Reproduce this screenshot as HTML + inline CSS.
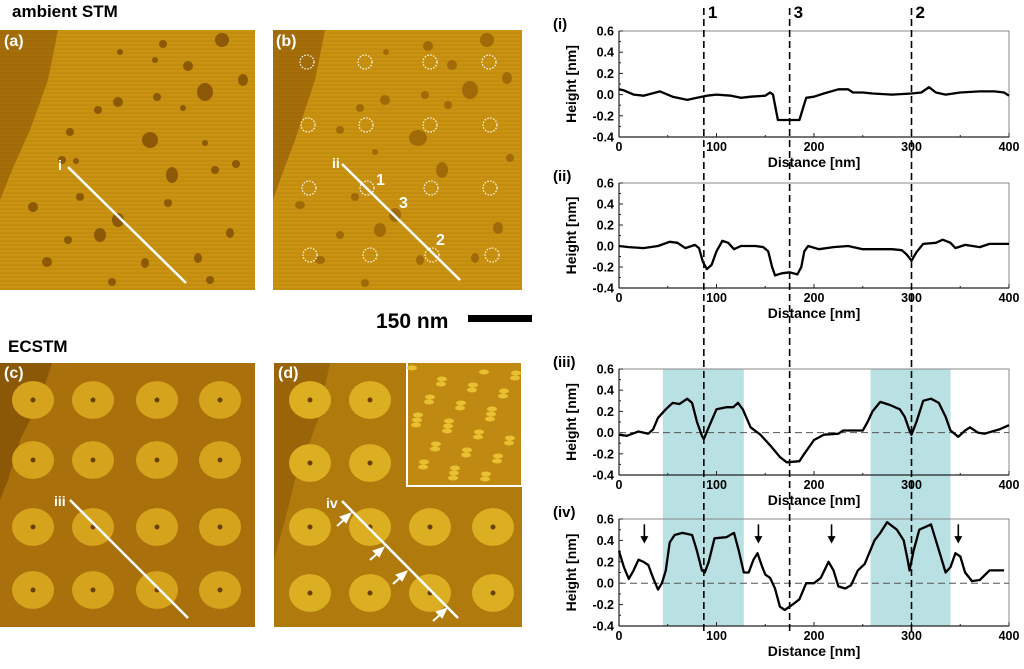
<!DOCTYPE html>
<html><head><meta charset="utf-8"><style>
html,body{margin:0;padding:0;background:#fff;width:1024px;height:669px;overflow:hidden}
svg{display:block;font-family:"Liberation Sans",Arial,sans-serif}
</style></head><body>
<svg id="fig" width="1024" height="669" viewBox="0 0 1024 669">
<defs>
<pattern id="stripes" width="6" height="4" patternUnits="userSpaceOnUse"><rect width="6" height="2" fill="#000" opacity="0.03"/></pattern>
</defs>
<text x="12" y="17" font-size="17" font-weight="bold">ambient STM</text>
<text x="8" y="352" font-size="17" font-weight="bold">ECSTM</text>

<g>
<rect x="0" y="30" width="255" height="260" fill="#c99210"/>
<polygon points="0,30 58,30 48,80 30,130 12,170 0,200" fill="#a56e08"/>
<rect x="0" y="30" width="255" height="260" fill="url(#stripes)"/>
<g fill="#8c5a06">
<ellipse cx="222" cy="40" rx="7" ry="7"/><ellipse cx="163" cy="44" rx="4" ry="4"/><ellipse cx="120" cy="52" rx="3" ry="3"/><ellipse cx="188" cy="66" rx="5" ry="5"/><ellipse cx="155" cy="60" rx="3" ry="3"/><ellipse cx="243" cy="80" rx="5" ry="6"/><ellipse cx="205" cy="92" rx="8" ry="9"/><ellipse cx="118" cy="102" rx="5" ry="5"/><ellipse cx="157" cy="97" rx="4" ry="4"/><ellipse cx="98" cy="110" rx="4" ry="4"/><ellipse cx="183" cy="108" rx="3" ry="3"/><ellipse cx="150" cy="140" rx="8" ry="8"/><ellipse cx="70" cy="132" rx="4" ry="4"/><ellipse cx="205" cy="143" rx="3" ry="3"/><ellipse cx="62" cy="160" rx="4" ry="4"/><ellipse cx="76" cy="161" rx="3" ry="3"/><ellipse cx="172" cy="175" rx="6" ry="8"/><ellipse cx="236" cy="164" rx="4" ry="4"/><ellipse cx="215" cy="170" rx="4" ry="4"/><ellipse cx="33" cy="207" rx="5" ry="5"/><ellipse cx="80" cy="197" rx="4" ry="4"/><ellipse cx="168" cy="203" rx="4" ry="4"/><ellipse cx="118" cy="220" rx="6" ry="7"/><ellipse cx="100" cy="235" rx="6" ry="7"/><ellipse cx="68" cy="240" rx="4" ry="4"/><ellipse cx="230" cy="233" rx="4" ry="5"/><ellipse cx="47" cy="262" rx="5" ry="5"/><ellipse cx="145" cy="263" rx="4" ry="5"/><ellipse cx="198" cy="258" rx="4" ry="5"/><ellipse cx="112" cy="282" rx="4" ry="4"/><ellipse cx="210" cy="280" rx="4" ry="4"/>
</g>
<line x1="68" y1="167" x2="186" y2="283" stroke="#fff" stroke-width="2.5"/>
<text x="58" y="170" font-size="14" font-weight="bold" fill="#fff">i</text>
<text x="4" y="46" font-size="16" font-weight="bold" fill="#fff">(a)</text>
</g>

<g>
<rect x="273" y="30" width="249" height="260" fill="#c99210"/>
<polygon points="273,30 325,30 315,80 295,140 280,180 273,200" fill="#a56e08"/>
<rect x="273" y="30" width="249" height="260" fill="url(#stripes)"/>
<g fill="#a06a08">
<ellipse cx="487" cy="40" rx="7" ry="7"/><ellipse cx="428" cy="46" rx="5" ry="5"/><ellipse cx="386" cy="52" rx="3" ry="3"/><ellipse cx="452" cy="65" rx="5" ry="5"/><ellipse cx="507" cy="78" rx="5" ry="6"/><ellipse cx="470" cy="90" rx="8" ry="9"/><ellipse cx="385" cy="100" rx="5" ry="5"/><ellipse cx="425" cy="95" rx="4" ry="4"/><ellipse cx="360" cy="108" rx="4" ry="4"/><ellipse cx="448" cy="105" rx="4" ry="4"/><ellipse cx="418" cy="138" rx="9" ry="8"/><ellipse cx="340" cy="130" rx="4" ry="4"/><ellipse cx="510" cy="158" rx="4" ry="4"/><ellipse cx="442" cy="170" rx="6" ry="8"/><ellipse cx="375" cy="152" rx="3" ry="3"/><ellipse cx="300" cy="205" rx="5" ry="4"/><ellipse cx="355" cy="197" rx="4" ry="4"/><ellipse cx="395" cy="215" rx="6" ry="7"/><ellipse cx="380" cy="230" rx="6" ry="7"/><ellipse cx="340" cy="235" rx="4" ry="4"/><ellipse cx="498" cy="228" rx="5" ry="6"/><ellipse cx="320" cy="260" rx="5" ry="4"/><ellipse cx="420" cy="260" rx="4" ry="5"/><ellipse cx="475" cy="258" rx="4" ry="5"/><ellipse cx="365" cy="283" rx="4" ry="4"/>
</g>
<g fill="none" stroke="#fff" stroke-width="1.2" stroke-dasharray="1.5 1.5">
<circle cx="307" cy="62" r="7"/><circle cx="365" cy="62" r="7"/><circle cx="430" cy="62" r="7"/><circle cx="489" cy="62" r="7"/>
<circle cx="308" cy="125" r="7"/><circle cx="366" cy="125" r="7"/><circle cx="430" cy="125" r="7"/><circle cx="490" cy="125" r="7"/>
<circle cx="309" cy="188" r="7"/><circle cx="367" cy="188" r="7"/><circle cx="431" cy="188" r="7"/><circle cx="490" cy="188" r="7"/>
<circle cx="310" cy="255" r="7"/><circle cx="370" cy="255" r="7"/><circle cx="432" cy="255" r="7"/><circle cx="492" cy="255" r="7"/>
</g>
<line x1="342" y1="164" x2="460" y2="280" stroke="#fff" stroke-width="2.5"/>
<text x="332" y="168" font-size="14" font-weight="bold" fill="#fff">ii</text>
<text x="376" y="185" font-size="16" font-weight="bold" fill="#fff">1</text>
<text x="399" y="208" font-size="16" font-weight="bold" fill="#fff">3</text>
<text x="436" y="245" font-size="16" font-weight="bold" fill="#fff">2</text>
<text x="276" y="46" font-size="16" font-weight="bold" fill="#fff">(b)</text>
</g>

<g>
<text x="376" y="328" font-size="21" font-weight="bold">150 nm</text>
<rect x="468" y="315" width="64" height="7" fill="#000"/>
</g>

<g>
<rect x="0" y="363" width="255" height="264" fill="#a9700b"/>
<polygon points="0,363 52,363 40,400 20,440 8,480 0,500" fill="#8a5806"/>
<g fill="#d6a41c" id="islc"></g>
<line x1="70" y1="500" x2="188" y2="618" stroke="#fff" stroke-width="2.5"/>
<text x="54" y="506" font-size="14" font-weight="bold" fill="#fff">iii</text>
<text x="4" y="378" font-size="16" font-weight="bold" fill="#fff">(c)</text>
</g>

<g>
<rect x="274" y="363" width="248" height="264" fill="#b07a0c"/>
<polygon points="274,363 330,363 318,420 295,480 285,520 274,560" fill="#9a6408"/>
<g fill="#dcae22" id="isld"></g>
<rect x="407" y="362" width="115" height="124" fill="#c08a12" stroke="#fff" stroke-width="2"/>
<g fill="#e8c030" id="insetd"></g>
<line x1="342" y1="501" x2="458" y2="618" stroke="#fff" stroke-width="2.5"/>
<text x="326" y="508" font-size="14" font-weight="bold" fill="#fff">iv</text>
<g stroke="#fff" stroke-width="2" fill="#fff">
<line x1="337" y1="526" x2="346" y2="518"/><polygon points="350,514 341,517 346,522"/>
<line x1="370" y1="560" x2="379" y2="552"/><polygon points="383,548 374,551 379,556"/>
<line x1="393" y1="584" x2="402" y2="576"/><polygon points="406,572 397,575 402,580"/>
<line x1="433" y1="621" x2="442" y2="613"/><polygon points="446,609 437,612 442,617"/>
</g>
<text x="278" y="378" font-size="16" font-weight="bold" fill="#fff">(d)</text>
</g>

<g id="charts"></g>
</svg>
<script>
// ---- data ----
const distI=[0,5,15,25,42,55,70,80,90,100,115,125,135,150,155,158,163,170,185,188,192,200,210,225,235,240,250,260,280,300,310,318,325,335,350,370,385,395,400];
const heightI=[0.05,0.04,0.0,-0.01,0.03,-0.02,-0.05,-0.03,-0.01,0.0,-0.01,-0.03,-0.02,-0.01,0.02,0.0,-0.24,-0.24,-0.24,-0.15,-0.03,-0.02,0.01,0.05,0.05,0.02,0.02,0.01,0.0,0.01,0.02,0.07,0.02,0.0,0.02,0.03,0.03,0.02,-0.01];
const distII=[0,10,25,40,52,60,68,78,82,86,90,95,100,106,112,118,125,140,148,153,157,160,167,175,183,187,190,194,205,220,235,250,265,280,290,295,300,305,312,325,332,340,345,355,370,380,400];
const heightII=[0.0,-0.01,-0.02,0.0,0.04,0.03,-0.02,0.01,-0.02,-0.15,-0.22,-0.18,-0.05,0.05,0.03,-0.03,0.0,0.0,-0.01,-0.05,-0.2,-0.28,-0.26,-0.25,-0.27,-0.2,-0.05,0.0,-0.03,-0.01,0.0,-0.03,-0.03,-0.03,-0.04,-0.08,-0.14,-0.06,0.02,0.03,0.06,0.03,-0.02,0.01,-0.01,0.02,0.02];
const distIII=[0,8,20,30,35,40,48,55,62,70,75,80,85,87,92,100,110,117,122,127,135,145,155,165,172,185,190,200,210,225,230,245,250,255,260,268,278,288,293,298,300,305,312,320,328,335,340,348,355,360,368,375,390,400];
const heightIII=[-0.02,-0.03,0.01,-0.01,0.03,0.14,0.22,0.28,0.27,0.32,0.28,0.1,-0.03,-0.06,0.05,0.22,0.24,0.24,0.28,0.22,0.05,-0.02,-0.12,-0.23,-0.28,-0.27,-0.2,-0.07,-0.02,-0.01,0.02,0.02,0.02,0.1,0.2,0.29,0.26,0.22,0.15,0.02,-0.02,0.1,0.3,0.32,0.28,0.15,0.02,-0.04,0.02,0.05,0.0,-0.01,0.03,0.07];
const distIV=[0,5,10,15,20,25,30,35,40,44,48,52,57,65,75,80,85,88,92,98,110,118,123,128,133,138,142,147,150,155,160,165,170,178,185,192,200,207,215,220,225,232,238,245,252,262,268,275,285,292,296,298,302,308,320,325,330,335,340,345,350,355,362,370,380,395];
const heightIV=[0.3,0.15,0.04,0.12,0.22,0.2,0.17,0.05,-0.06,0.0,0.12,0.38,0.45,0.47,0.45,0.3,0.12,0.1,0.2,0.42,0.43,0.47,0.3,0.1,0.1,0.22,0.28,0.15,0.08,0.05,-0.05,-0.22,-0.25,-0.2,-0.15,0.0,0.0,0.05,0.2,0.12,-0.03,-0.05,-0.02,0.12,0.18,0.4,0.47,0.57,0.5,0.4,0.22,0.12,0.3,0.5,0.55,0.4,0.25,0.1,0.15,0.28,0.25,0.1,0.02,0.03,0.12,0.12];
const xTicks=[0,100,200,300,400];
const yTicks=[0.6,0.4,0.2,0.0,-0.2,-0.4];
const yTickLabels=["0.6","0.4","0.2","0.0","-0.2","-0.4"];
const markerDist=[87,175,300];
const markerLabels=["1","3","2"];
const shadeStart=[45,258];
const shadeEnd=[128,340];
const arrowDist=[26,143,218,348];

const NS="http://www.w3.org/2000/svg";
const root=document.getElementById('charts');
function el(tag,attrs,parent){const e=document.createElementNS(NS,tag);for(const k in attrs)e.setAttribute(k,attrs[k]);(parent||root).appendChild(e);return e;}
const X0=619,X1=1009;
function xs(d){return X0+(d-0)/(400-0)*(X1-X0);}
const panels=[
 {lab:"(i)",top:31,bot:137,d:distI,h:heightI,zero:false},
 {lab:"(ii)",top:183,bot:288,d:distII,h:heightII,zero:false},
 {lab:"(iii)",top:369,bot:475,d:distIII,h:heightIII,zero:true},
 {lab:"(iv)",top:519,bot:626,d:distIV,h:heightIV,zero:true}
];
function ysf(p){return v=>p.top+(0.6-v)/(1.0)*(p.bot-p.top);}

for(let i=0;i<shadeStart.length;i++){
 const r=el('rect',{x:xs(shadeStart[i]),y:panels[2].top,width:xs(shadeEnd[i])-xs(shadeStart[i]),height:panels[3].bot-panels[2].top,fill:"#b9e0e3"});
 
 
}
panels.forEach((p,pi)=>{
 const ys=ysf(p);
 const g=el('g',{});
 
 
 el('rect',{x:X0,y:p.top,width:X1-X0,height:p.bot-p.top,fill:"none",stroke:"#888","stroke-width":1},g);
 el('line',{x1:X0,y1:p.top,x2:X0,y2:p.bot,stroke:"#222","stroke-width":1.2},g);
 el('line',{x1:X0,y1:p.bot,x2:X1,y2:p.bot,stroke:"#222","stroke-width":1.2},g);
 yTicks.forEach((t,i)=>{
  el('line',{x1:X0,y1:ys(t),x2:X0+4,y2:ys(t),stroke:"#222"},g);
  if(i<yTicks.length-1) el('line',{x1:X0,y1:ys(t-0.1),x2:X0+2,y2:ys(t-0.1),stroke:"#222"},g);
  const tx=el('text',{x:X0-5,y:ys(t)+4.5,"font-size":12.5,"font-weight":"bold","text-anchor":"end"},g);tx.textContent=yTickLabels[i];
 });
 xTicks.forEach((t,i)=>{
  el('line',{x1:xs(t),y1:p.bot,x2:xs(t),y2:p.bot-4,stroke:"#222"},g);
  if(i<xTicks.length-1) el('line',{x1:xs(t+50),y1:p.bot,x2:xs(t+50),y2:p.bot-2,stroke:"#222"},g);
  const tx=el('text',{x:xs(t),y:p.bot+14,"font-size":12.5,"font-weight":"bold","text-anchor":"middle"},g);tx.textContent=String(t);
 });
 const xl=el('text',{x:(X0+X1)/2,y:p.bot+30,"font-size":14,"font-weight":"bold","text-anchor":"middle"},g);xl.textContent="Distance [nm]";
 
 
 const cy=(p.top+p.bot)/2;
 const yl=el('text',{x:576,y:cy,"font-size":14,"font-weight":"bold","text-anchor":"middle",transform:`rotate(-90 576 ${cy})`},g);yl.textContent="Height [nm]";
 
 
 const pl=el('text',{x:553,y:p.top-2,"font-size":15,"font-weight":"bold"},g);pl.textContent=p.lab;
 if(p.zero) el('line',{x1:X0,y1:ys(0),x2:X1,y2:ys(0),stroke:"#555","stroke-dasharray":"7 4","stroke-width":1},g);
 const pts=p.d.map((d,i)=>xs(d).toFixed(1)+","+ys(p.h[i]).toFixed(1)).join(" ");
 const line=el('polyline',{points:pts,fill:"none",stroke:"#000","stroke-width":2.3,"stroke-linejoin":"round"},g);
 
 
});
const ys4=ysf(panels[3]);
arrowDist.forEach(d=>{
 const a=el('g',{});
 
 
 el('line',{x1:xs(d),y1:ys4(0.55),x2:xs(d),y2:ys4(0.42),stroke:"#000","stroke-width":1.6},a);
 el('polygon',{points:`${xs(d)-4},${ys4(0.44)} ${xs(d)+4},${ys4(0.44)} ${xs(d)},${ys4(0.37)}`,fill:"#000"},a);
});
markerDist.forEach((d,i)=>{
 const m=el('line',{x1:xs(d),y1:8,x2:xs(d),y2:632,stroke:"#000","stroke-width":1.6,"stroke-dasharray":"7 4"});
 
 
 const t=el('text',{x:xs(d)+4,y:18,"font-size":17,"font-weight":"bold"});t.textContent=markerLabels[i];
 
 
});
function blob(parent,cx,cy,r,fill){el('ellipse',{cx:cx,cy:cy,rx:r,ry:r*0.9,fill:fill},parent);el('circle',{cx:cx,cy:cy,r:2.5,fill:"#6a4004"},parent);}
const ic=document.getElementById('islc');
[33,93,157,220].forEach(x=>[400,460,527,590].forEach(y=>blob(ic,x,y,21,"#d6a41c")));
const id=document.getElementById('isld');
[[310,400],[370,400],[310,463],[370,463],[310,527],[370,527],[430,527],[493,527],[310,593],[370,593],[430,593],[493,593]].forEach(p=>blob(id,p[0],p[1],21,"#dcae22"));
const ins=document.getElementById('insetd');
for(let i=0;i<40;i++){const x=412+((i*37)%105),y=368+((i*53)%112);el('ellipse',{cx:x,cy:y,rx:5,ry:2.5,fill:"#e8c030"},ins);}
</script>
</body></html>
